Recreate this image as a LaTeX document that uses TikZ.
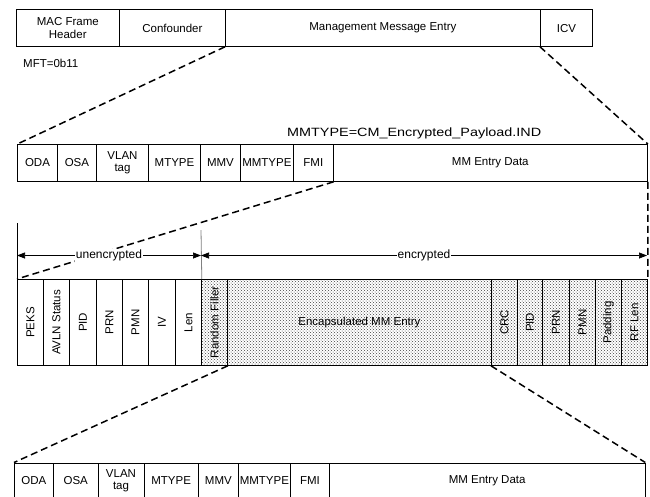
\documentclass[tikz,border=0pt]{standalone}
\usepackage{fontspec}
\setmainfont{Liberation Sans}
\newfontfamily\widefont[FakeStretch=1.2]{Liberation Sans}
\usetikzlibrary{arrows.meta,patterns}
\begin{document}
\begin{tikzpicture}[x=1pt,y=-1pt,
  >={Triangle[length=8pt,width=6pt]},
  cellbox/.style={draw, line width=0.8pt, inner sep=0pt, anchor=north west,
    align=center, font=\fontsize{11.5}{12.5}\selectfont},
  shaded/.style={fill=gray!12, pattern=crosshatch dots, pattern color=black!75},
  zoomline/.style={dash pattern=on 7pt off 4pt, line width=1.5pt},
  span/.style={<->, line width=0.7pt},
  spanlabel/.style={fill=white, inner sep=1pt, font=\fontsize{12}{13}\selectfont},
  plain/.style={inner sep=0pt, font=\fontsize{11.5}{13}\selectfont}
]
\path[use as bounding box, clip] (0,0) rectangle (650,496);

% MAC frame
\foreach \a/\b/\n/\t in {15.7/119/mac/{MAC Frame\\Header},
    119/225/conf/Confounder, 225/540/mme/Management Message Entry, 540/592/icv/ICV}{
  \pgfmathsetmacro\w{\b-\a}
  \node[cellbox, minimum width=\w pt, minimum height=36.7pt] (\n) at (\a,9.3) {\t};
}
\node[plain, anchor=west] (mft) at (23,63) {MFT=0b11};

% Management message header and entry
\node[plain, anchor=west] (mmtype) at (287,133) {\widefont\fontsize{12}{13}\selectfont MMTYPE=CM\_Encrypted\_Payload.IND};
\foreach \a/\b/\n/\t in {17.4/56.8/oda/ODA, 56.8/96.2/osa/OSA, 96.2/148/vlan/{VLAN\\tag},
    148/200.2/mtype/MTYPE, 200.2/240/mmv/MMV, 240/293/mmt/MMTYPE, 293/332.8/fmi/FMI,
    332.8/647/med/MM Entry Data}{
  \pgfmathsetmacro\w{\b-\a}
  \node[cellbox, minimum width=\w pt, minimum height=37pt] (\n) at (\a,144) {\t};
}

% Encrypted payload
\foreach \a/\b/\n/\t in {17/43/peks/PEKS, 43/69/avln/AVLN Status, 69/96/pida/PID,
    96/122/prna/PRN, 122/148/pmna/PMN, 148/175/iv/IV, 175/201/len/Len}{
  \pgfmathsetmacro\w{\b-\a}
  \node[cellbox, minimum width=\w pt, minimum height=86pt] (\n) at (\a,279) {\rotatebox{90}{\t}};
}
\foreach \a/\b/\n/\t in {201/227/rf/Random Filler, 491/517/crc/CRC, 517/542/pidb/PID,
    542/569/prnb/PRN, 569/595/pmnb/PMN, 595/621/pad/Padding, 621/647/rflen/RF Len}{
  \pgfmathsetmacro\w{\b-\a}
  \node[cellbox, shaded, minimum width=\w pt, minimum height=86pt] (\n) at (\a,279) {\rotatebox{90}{\t}};
}
\node[cellbox, shaded, minimum width=264pt, minimum height=86pt] (emm) at (227,279) {Encapsulated MM Entry};

% Inner management message
\foreach \a/\b/\n/\t in {14/53/odb/ODA, 53/97.7/osb/OSA, 97.7/143.5/vlb/{VLAN\\tag},
    143.5/198/mtb/MTYPE, 198/238/mmvb/MMV, 238/290/mmtb/MMTYPE, 290/329/fmib/FMI,
    329/644.5/medb/MM Entry Data}{
  \pgfmathsetmacro\w{\b-\a}
  \node[cellbox, minimum width=\w pt, minimum height=36pt] (\n) at (\a,462.5) {\t};
}

% Zoom guides
\draw[zoomline] (mme.south west) -- (oda.north west);
\draw[zoomline] (icv.south west) -- (med.north east);
\draw[zoomline] (med.south east) -- (rflen.north east);
\draw[zoomline] (fmi.south east) -- (peks.north west);
\draw[zoomline] (rf.south east) -- (odb.north west);
\draw[zoomline] (crc.south west) -- (medb.north east);

% Encryption extents
\coordinate (ltop) at (17,223);
\coordinate (mtop) at (201,230);
\coordinate (ul) at (17,255.5);
\coordinate (ur) at (201,255.5);
\coordinate (er) at (647,255.5);
\draw[line width=0.8pt] (ltop) -- (peks.north west);
\draw[line width=0.8pt, gray] (mtop) -- (len.north east);
\draw[span] (ul) -- (ur) node[spanlabel, pos=0.5] (unenc) {unencrypted};
\draw[span] (ur) -- (er) node[spanlabel, pos=0.5] (enc) {encrypted};
\end{tikzpicture}
\end{document}
